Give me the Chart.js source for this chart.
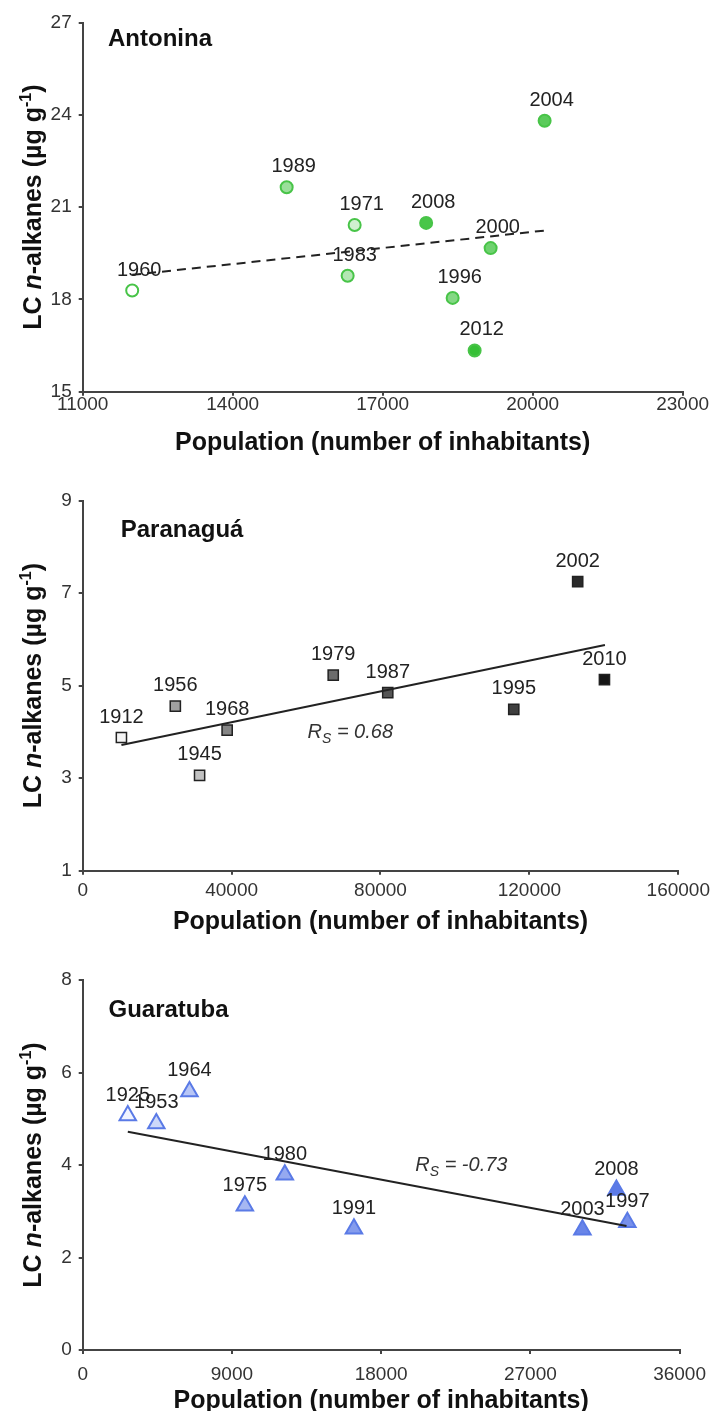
<!DOCTYPE html>
<html>
<head>
<meta charset="utf-8">
<script src="https://cdn.jsdelivr.net/npm/chart.js@4.4.1/dist/chart.umd.min.js"></script>
<style>
  body { margin: 0; background: #fff; }
  .painel { position: absolute; left: 0; width: 715px; }
</style>
</head>
<body>
<div class="painel" style="top:0"><canvas id="grafAntonina" width="715" height="462"></canvas></div>
<div class="painel" style="top:462px"><canvas id="grafParanagua" width="715" height="480"></canvas></div>
<div class="painel" style="top:942px"><canvas id="grafGuaratuba" width="715" height="469"></canvas></div>
<script>
// --- dados ---
const antYears  = [1960, 1971, 1983, 1989, 1996, 2000, 2004, 2008, 2012];
const antPop    = [11990, 16440, 16300, 15080, 18400, 19160, 20240, 17870, 18840];
const antLC     = [18.29, 20.42, 18.77, 21.65, 18.05, 19.67, 23.81, 20.49, 16.34];
const antTrendX = [11990, 20240];
const antTrendY = [18.80, 20.24];
const antXTicks = [11000, 23000, 3000];
const antYTicks = [15, 27, 3];

const parYears  = [1912, 1945, 1956, 1968, 1979, 1987, 1995, 2002, 2010];
const parPop    = [10400, 31400, 24880, 38800, 67300, 81950, 115800, 132970, 140160];
const parLC     = [3.88, 3.06, 4.56, 4.04, 5.23, 4.85, 4.49, 7.25, 5.13];
const parTrendX = [10400, 140290];
const parTrendY = [3.72, 5.88];
const parXTicks = [0, 160000, 40000];
const parYTicks = [1, 9, 2];
const parRs = "0.68";

const guaYears  = [1925, 1953, 1964, 1975, 1980, 1991, 1997, 2003, 2008];
const guaPop    = [2720, 4440, 6440, 9780, 12190, 16360, 32850, 30140, 32190];
const guaLC     = [5.07, 4.90, 5.59, 3.12, 3.79, 2.62, 2.76, 2.60, 3.46];
const guaTrendX = [2720, 32800];
const guaTrendY = [4.72, 2.68];
const guaXTicks = [0, 36000, 9000];
const guaYTicks = [0, 8, 2];
const guaRs = "-0.73";

const FONTE = '"Liberation Sans", Arial, sans-serif';

// cor mais clara para os anos antigos, mais forte para os recentes
function tonalidade(anos, inicio, fim) {
    const ordenados = [...anos].sort((a, b) => a - b);
    return anos.map(ano => {
        const t = Math.pow(ordenados.indexOf(ano) / (ordenados.length - 1), 0.7);
        const c = inicio.map((v, k) => Math.round(v + (fim[k] - v) * t));
        return `rgb(${c[0]}, ${c[1]}, ${c[2]})`;
    });
}

function pluginTextos(cfg) {
    return {
        id: 'textos',
        afterDatasetsDraw(chart) {
            const ctx = chart.ctx;
            const area = chart.chartArea;
            ctx.save();

            // anos em cima dos pontos
            ctx.font = `20px ${FONTE}`;
            ctx.fillStyle = '#222';
            ctx.textAlign = 'center';
            ctx.textBaseline = 'alphabetic';
            chart.getDatasetMeta(0).data.forEach((pt, i) => {
                ctx.fillText(String(cfg.years[i]), pt.x + cfg.labelDx, pt.y - 15);
            });

            // nome da cidade
            ctx.font = `bold 24px ${FONTE}`;
            ctx.fillStyle = '#111';
            ctx.textAlign = 'left';
            ctx.fillText(cfg.nome, area.left + cfg.nomeDx, area.top + cfg.nomeDy);

            // titulo eixo x
            ctx.font = `bold 25px ${FONTE}`;
            ctx.textAlign = 'center';
            ctx.fillText('Population (number of inhabitants)', (area.left + area.right) / 2, area.bottom + 58);

            // titulo eixo y (com n italico e expoente)
            const partes = [
                { t: 'LC ', f: `bold 25px ${FONTE}`, dy: 0 },
                { t: 'n', f: `italic bold 25px ${FONTE}`, dy: 0 },
                { t: '-alkanes (µg g', f: `bold 25px ${FONTE}`, dy: 0 },
                { t: '-1', f: `bold 16px ${FONTE}`, dy: -10 },
                { t: ')', f: `bold 25px ${FONTE}`, dy: 0 }
            ];
            let total = 0;
            partes.forEach(p => { ctx.font = p.f; p.w = ctx.measureText(p.t).width; total += p.w; });
            ctx.translate(41, (area.top + area.bottom) / 2);
            ctx.rotate(-Math.PI / 2);
            ctx.textAlign = 'left';
            let x = -total / 2;
            partes.forEach(p => { ctx.font = p.f; ctx.fillText(p.t, x, p.dy); x += p.w; });
            ctx.setTransform(1, 0, 0, 1, 0, 0);

            // R_S
            if (cfg.rs) {
                const px = chart.scales.x.getPixelForValue(cfg.rsPos[0]);
                const py = chart.scales.y.getPixelForValue(cfg.rsPos[1]);
                ctx.fillStyle = '#333';
                ctx.textAlign = 'left';
                ctx.font = `italic 20px ${FONTE}`;
                ctx.fillText('R', px, py);
                let w = ctx.measureText('R').width;
                ctx.font = `italic 14px ${FONTE}`;
                ctx.fillText('S', px + w, py + 5);
                w += ctx.measureText('S').width;
                ctx.font = `italic 20px ${FONTE}`;
                ctx.fillText(' = ' + cfg.rs, px + w, py);
            }
            ctx.restore();
        }
    };
}

function eixo(limites, larguraFixa, alturaFixa, padding) {
    return {
        type: 'linear',
        min: limites[0],
        max: limites[1],
        border: { display: true, color: '#444', width: 2 },
        grid: { drawOnChartArea: false, drawTicks: true, tickLength: 4, color: '#444', lineWidth: 2 },
        ticks: {
            stepSize: limites[2],
            color: '#333',
            padding: padding,
            font: { family: FONTE, size: 19 },
            callback: v => String(v)
        },
        afterFit: scale => {
            if (larguraFixa) scale.width = larguraFixa;
            if (alturaFixa) scale.height = alturaFixa;
        }
    };
}

function gerarGrafico(cfg) {
    const canvas = document.getElementById(cfg.id);
    const pontos = cfg.pop.map((p, i) => ({ x: p, y: cfg.lc[i] }));
    const tendencia = cfg.trendX.map((p, i) => ({ x: p, y: cfg.trendY[i] }));

    new Chart(canvas.getContext('2d'), {
        type: 'scatter',
        data: {
            datasets: [{
                data: pontos,
                pointStyle: cfg.estilo,
                pointRadius: cfg.raio,
                pointHoverRadius: cfg.raio,
                pointBackgroundColor: tonalidade(cfg.years, cfg.corInicio, cfg.corFim),
                pointBorderColor: cfg.borda,
                pointBorderWidth: cfg.larguraBorda,
                order: 2
            }, {
                type: 'line',
                data: tendencia,
                showLine: true,
                borderColor: '#222',
                borderWidth: 2,
                borderDash: cfg.tracejado,
                pointRadius: 0,
                fill: false,
                order: 1
            }]
        },
        options: {
            responsive: false,
            animation: false,
            layout: { padding: { top: cfg.topo, right: 32.4, left: 0, bottom: 0 } },
            plugins: { legend: { display: false }, tooltip: { enabled: false } },
            scales: {
                x: eixo(cfg.xTicks, null, canvas.height - cfg.base, cfg.padX),
                y: eixo(cfg.yTicks, 82.7, null, 7)
            }
        },
        plugins: [pluginTextos(cfg)]
    });
}

gerarGrafico({
    id: 'grafAntonina', nome: 'Antonina', years: antYears, pop: antPop, lc: antLC,
    trendX: antTrendX, trendY: antTrendY, xTicks: antXTicks, yTicks: antYTicks,
    estilo: 'circle', raio: 6, larguraBorda: 2, borda: '#48c448',
    corInicio: [255, 255, 255], corFim: [55, 192, 55], tracejado: [9, 6],
    topo: 22.7, base: 391.7, padX: -2, labelDx: 7, nomeDx: 25.3, nomeDy: 23.3
});

gerarGrafico({
    id: 'grafParanagua', nome: 'Paranaguá', years: parYears, pop: parPop, lc: parLC,
    trendX: parTrendX, trendY: parTrendY, xTicks: parXTicks, yTicks: parYTicks,
    estilo: 'rect', raio: 7.2, larguraBorda: 1.5, borda: '#222',
    corInicio: [245, 245, 245], corFim: [22, 22, 22], tracejado: [],
    topo: 38.7, base: 408.7, padX: 5, labelDx: 0, nomeDx: 38, nomeDy: 35.8,
    rs: parRs, rsPos: [60400, 3.87]
});

gerarGrafico({
    id: 'grafGuaratuba', nome: 'Guaratuba', years: guaYears, pop: guaPop, lc: guaLC,
    trendX: guaTrendX, trendY: guaTrendY, xTicks: guaXTicks, yTicks: guaYTicks,
    estilo: 'triangle', raio: 9.5, larguraBorda: 2, borda: '#5a7ae6',
    corInicio: [240, 244, 255], corFim: [92, 122, 230], tracejado: [],
    topo: 38, base: 408, padX: 9, labelDx: 0, nomeDx: 25.8, nomeDy: 36.7,
    rs: guaRs, rsPos: [20060, 3.87]
});
</script>
</body>
</html>
